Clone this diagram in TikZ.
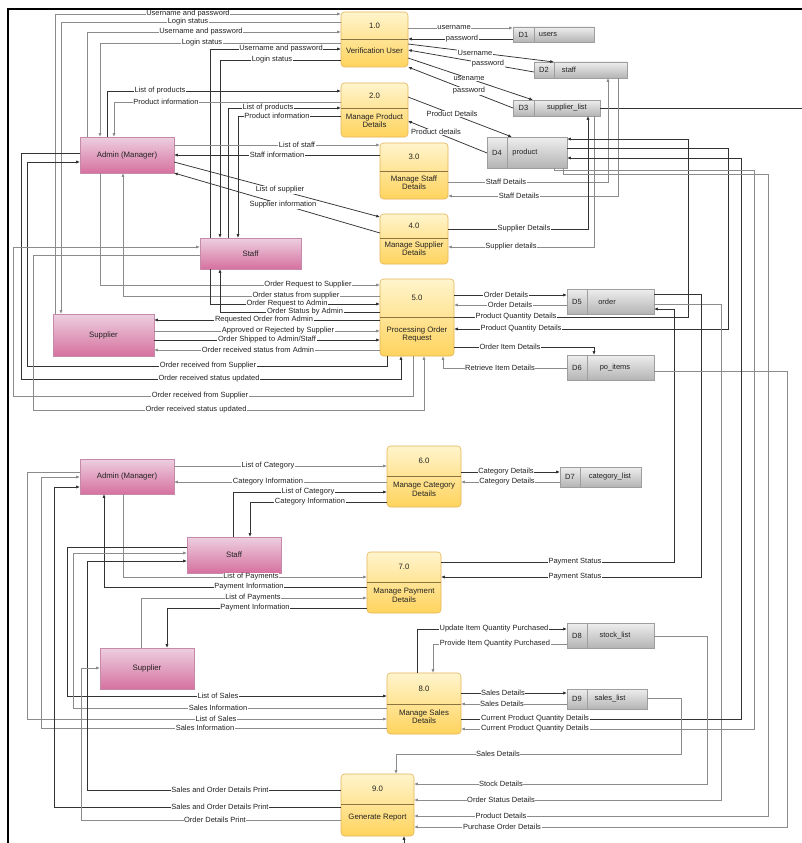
\documentclass[tikz,border=0pt]{standalone}
\usepackage{fontspec}
\setmainfont{Liberation Sans}
\usetikzlibrary{arrows.meta}
\definecolor{ptop}{HTML}{FFF4CC}
\definecolor{pbot}{HTML}{FFD45E}
\definecolor{pbrd}{HTML}{E3B458}
\definecolor{pdivc}{HTML}{8C7440}
\definecolor{etop}{HTML}{EDCFE0}
\definecolor{ebot}{HTML}{D6719F}
\definecolor{ebrd}{HTML}{C58AAA}
\definecolor{stop}{HTML}{EEEEEE}
\definecolor{sbot}{HTML}{B4B4B4}
\definecolor{sbrd}{HTML}{9E9E9E}
\definecolor{txt}{HTML}{222222}
\tikzset{
 proc/.style={draw=pbrd, line width=0.6pt, rounded corners=3.5pt, top color=ptop, bottom color=pbot, inner sep=0pt, outer sep=0pt},
 ent/.style={draw=ebrd, line width=0.5pt, top color=etop, bottom color=ebot, inner sep=0pt, outer sep=0pt, font=\fontsize{7.8}{8.4}\selectfont, text=txt},
 store/.style={draw=sbrd, line width=0.5pt, top color=stop, bottom color=sbot, inner sep=0pt, outer sep=0pt},
 ntext/.style={font=\fontsize{7.8}{8.4}\selectfont, align=center, inner sep=0pt, text=txt},
 stext/.style={font=\fontsize{7.5}{8}\selectfont, inner sep=0pt, text=txt},
 lbl/.style={font=\fontsize{7.5}{8}\selectfont, fill=white, inner sep=0.6pt, text=txt},
 fl/.style={draw=black!80, line width=0.75pt, -{Latex[length=3.8pt,width=3.2pt]}},
 gf/.style={fl, draw=black!45},
}
\newcommand\mkproc[8]{%
 \node[proc, minimum width={#4-#2}, minimum height={#5-#3}] (#1) at ({(#2+#4)/2},{(#3+#5)/2}) {};
 \draw[draw=pdivc, line width=0.6pt] (#2,#6) -- (#4,#6);
 \node[ntext] (#1-num) at ({(#2+#4)/2},{(#3+#6)/2}) {#7};
 \node[ntext] (#1-txt) at ({(#2+#4)/2},{(#6+#5)/2-2}) {#8};
}
\newcommand\mkent[6]{%
 \node[ent, minimum width={#4-#2}, minimum height={#5-#3}] (#1) at ({(#2+#4)/2},{(#3+#5)/2}) {#6};
}
\newcommand\mkstore[9]{%
 \node[store, minimum width={#4-#2}, minimum height={#5-#3}] (#1) at ({(#2+#4)/2},{(#3+#5)/2}) {};
 \draw[draw=sbrd, line width=0.5pt] (#6,#3) -- (#6,#5);
 \node[stext] (#1-id) at ({(#2+#6)/2},{(#3+#5)/2}) {#7};
 \node[stext] (#1-lab) at (#9,{(#3+#5)/2}) {#8};
}
\begin{document}
\begin{tikzpicture}[x=1pt,y=-1pt]
\useasboundingbox (0,0) rectangle (802,843);
\fill[white] (0,0) rectangle (802,843);
% frame
\coordinate (fbl) at (8,843);
\coordinate (ftl) at (8,9);
\coordinate (ftr) at (802,9);
\draw[line width=1.3pt] (fbl) -- (ftl) -- (ftr);
% processes
\mkproc{p1}{341}{12}{408}{67}{39}{1.0}{Verification User}
\mkproc{p2}{341}{83}{408}{137}{108}{2.0}{Manage Product\\Details}
\mkproc{p3}{380}{143}{448}{199}{171}{3.0}{Manage Staff\\Details}
\mkproc{p4}{380}{214}{448}{264}{238}{4.0}{Manage Supplier\\Details}
\mkproc{p5}{380}{279}{454}{356}{317}{5.0}{Processing Order\\Request}
\mkproc{p6}{387}{446}{461}{507}{476}{6.0}{Manage Category\\Details}
\mkproc{p7}{367}{552}{441}{613}{582}{7.0}{Manage Payment\\Details}
\mkproc{p8}{387}{673}{461}{734}{704}{8.0}{Manage Sales\\Details}
\mkproc{p9}{341}{774}{414}{836}{804}{9.0}{Generate Report}
% entities
\mkent{adm1}{80}{137}{174}{173}{Admin (Manager)}
\mkent{stf1}{200}{238}{301}{269}{Staff}
\mkent{sup1}{53}{314}{154}{356}{Supplier}
\mkent{adm2}{80}{459}{174}{494}{Admin (Manager)}
\mkent{stf2}{187}{537}{281}{573}{Staff}
\mkent{sup2}{100}{648}{194}{689}{Supplier}
% stores
\mkstore{d1}{513}{27}{594}{42}{534}{D1}{users}{548}
\mkstore{d2}{534}{62}{627}{78}{554}{D2}{staff}{569}
\mkstore{d3}{513}{100}{600}{116}{534}{D3}{supplier\_list}{567}
\mkstore{d4}{487}{137}{567}{168}{507}{D4}{product}{525}
\mkstore{d5}{567}{289}{654}{314}{587}{D5}{order}{607}
\mkstore{d6}{567}{355}{654}{380}{587}{D6}{po\_items}{615}
\mkstore{d7}{560}{467}{641}{487}{580}{D7}{category\_list}{610}
\mkstore{d8}{567}{623}{654}{648}{587}{D8}{stock\_list}{615}
\mkstore{d9}{567}{689}{647}{709}{587}{D9}{sales\_list}{610}
% --- 1.0
\draw[gf] (sup1.north -| 55,0) |- (p1.west |- 0,14) node[lbl] at (188,14) {Username and password};
\draw[gf] (p1.west |- 0,22) -| (sup1.north -| 61,0) node[lbl] at (188,22) {Login status};
\draw[gf] (adm1.north -| 87,0) |- (p1.west |- 0,32) node[lbl] at (201,32) {Username and password};
\draw[gf] (p1.west |- 0,43) -| (adm1.north -| 100,0) node[lbl] at (202,43) {Login status};
\draw[fl] (stf1.north -| 210,0) |- (p1.west |- 0,49) node[lbl] at (281,49) {Username and password};
\draw[fl] (p1.west |- 0,60) -| (stf1.north -| 220,0) node[lbl] at (272,60) {Login status};
\draw[gf] (p1.east |- 0,28) -- (d1.west |- 0,28) node[lbl] at (454,28) {username};
\draw[fl] (d1.west |- 0,39) -- (p1.east |- 0,39) node[lbl] at (462,39) {password};
\draw[fl] (p1.east |- 0,44) -- (d2.north -| 554,0) node[lbl] at (475,52.5) {Username};
\draw[fl] (d2.west |- 0,72) -- (p1.east |- 0,50) node[lbl] at (488,64) {password};
\draw[fl] (p1.east |- 0,58) -- (d3.north -| 533,0) node[lbl] at (469,78.5) {usename};
\draw[fl] (d3.west |- 0,108) -- (p1.south east) node[lbl] at (469,91) {password};
\coordinate (redge) at (802,108);
\draw[fl,-] (d3.east |- 0,108) -- (redge);
% --- 2.0
\draw[fl] (adm1.north -| 107,0) |- (p2.west |- 0,91) node[lbl] at (160,91) {List of products};
\draw[gf] (p2.west |- 0,102) -| (adm1.north -| 114,0) node[lbl] at (166,102) {Product information};
\draw[fl] (stf1.north -| 228,0) |- (p2.west |- 0,108) node[lbl] at (268,108) {List of products};
\draw[fl] (p2.west |- 0,116) -| (stf1.north -| 238,0) node[lbl] at (277,116) {Product information};
\draw[fl] (p2.east |- 0,97) -- (d4.north -| 512,0) node[lbl] at (452,114) {Product Details};
\draw[fl] (d4.west |- 0,153) -- (p2.east |- 0,121) node[lbl] at (436,132) {Product details};
% --- 3.0
\draw[gf] (adm1.east |- 0,145) -- (p3.west |- 0,145) node[lbl] at (297,145) {List of staff};
\draw[fl] (p3.west |- 0,155) -- (adm1.east |- 0,155) node[lbl] at (277,155) {Staff information};
\draw[gf] (p3.east |- 0,182) -| (d2.south -| 608,0) node[lbl] at (506,182) {Staff Details};
\draw[gf] (d2.south -| 618,0) |- (p3.east |- 0,196) node[lbl] at (519,196) {Staff Details};
% --- 4.0
\draw[fl] (adm1.east |- 0,162) -- (p4.west |- 0,217) node[lbl] at (280,190) {List of supplier};
\draw[fl] (p4.west |- 0,233) -- (adm1.south east) node[lbl] at (283,205) {Supplier information};
\draw[fl] (p4.east |- 0,229) -| (d3.south -| 588,0) node[lbl] at (524,229) {Supplier Details};
\draw[gf] (d3.south -| 594,0) |- (p4.east |- 0,247) node[lbl] at (511,247) {Supplier details};
% --- 5.0 left
\draw[gf] (adm1.south -| 100,0) |- (p5.west |- 0,285) node[lbl] at (308,285) {Order Request to Supplier};
\draw[gf] (p5.west |- 0,296) -| (adm1.south -| 123,0) node[lbl] at (296,296) {Order status from supplier};
\draw[fl] (stf1.south -| 210,0) |- (p5.west |- 0,304) node[lbl] at (287,304) {Order Request to  Admin};
\draw[fl] (p5.west |- 0,312) -| (stf1.south -| 220,0) node[lbl] at (305,312) {Order Status by Admin};
\draw[fl] (p5.west |- 0,320) -- (sup1.east |- 0,320) node[lbl] at (264,320) {Requested Order from Admin};
\draw[gf] (sup1.east |- 0,331) -- (p5.west |- 0,331) node[lbl] at (278,331) {Approved or Rejected by Supplier};
\draw[fl] (sup1.east |- 0,340) -- (p5.west |- 0,340) node[lbl] at (267,340) {Order Shipped to Admin/Staff};
\draw[gf] (p5.west |- 0,350) -- (sup1.east |- 0,350) node[lbl] at (258,350) {Order received status from Admin};
% --- 5.0 bottom
\draw[fl] (p5.south -| 387,0) |- (27,366) |- (adm1.west |- 0,162) node[lbl] at (208,366) {Order received from Supplier};
\draw[fl] (adm1.west |- 0,153) -| (21,379) -| (p5.south -| 401,0) node[lbl] at (209,379) {Order received status updated};
\draw[gf] (p5.south -| 413,0) |- (13,396) |- (stf1.west |- 0,247) node[lbl] at (200,396) {Order received from Supplier};
\draw[gf] (stf1.west |- 0,255) -| (33,410) -| (p5.south -| 424,0) node[lbl] at (196,410) {Order received status updated};
% --- 5.0 right
\draw[fl] (p5.east |- 0,295) -- (d5.west |- 0,295) node[lbl] at (506,295) {Order Details};
\draw[gf] (d5.west |- 0,305) -- (p5.east |- 0,305) node[lbl] at (510,305) {Order Details};
\draw[fl] (p5.east |- 0,317) -| (688,139) -- (d4.east |- 0,139) node[lbl] at (516,317) {Product Quantity Details};
\draw[fl] (d4.east |- 0,148) -| (728,329) -- (p5.east |- 0,329) node[lbl] at (521,329) {Product Quantity Details};
\draw[fl] (p5.east |- 0,347) -| (d6.north -| 594,0) node[lbl] at (510,347) {Order Item Details};
\draw[gf] (d6.west |- 0,368) -| (p5.south -| 443,0) node[lbl] at (500,368) {Retrieve Item Details};
% --- right column
\draw[gf] (d5.east |- 0,304) -| (721,800) -- (p9.east |- 0,800) node[lbl] at (501,800) {Order Status Details};
\draw[fl] (d5.east |- 0,294) -| (701,577) -- (p7.east |- 0,577) node[lbl] at (575,577) {Payment Status};
\draw[fl] (p7.east |- 0,562) -| (674,309) -- (d5.east |- 0,309) node[lbl] at (575,562) {Payment Status};
\draw[gf] (d6.east |- 0,371) -| (787,827) -- (p9.east |- 0,827) node[lbl] at (502,827) {Purchase Order Details};
\draw[fl] (p8.east |- 0,719) -| (741,158) -- (d4.east |- 0,158) node[lbl] at (535,719) {Current Product Quantity Details};
\draw[gf] (d4.south -| 554,0) |- (754,170) -- (754,729) -- (p8.east |- 0,729) node[lbl] at (535,729) {Current Product Quantity Details};
\draw[gf] (d4.south -| 563,0) |- (768,174) -- (768,816) -- (p9.east |- 0,816) node[lbl] at (501,816) {Product Details};
\draw[gf] (d8.east |- 0,636) -| (707,784) -- (p9.east |- 0,784) node[lbl] at (501,784) {Stock Details};
\draw[gf] (d9.east |- 0,698) -| (681,754) -| (p9.north -| 396,0) node[lbl] at (498,754) {Sales Details};
% --- 6.0
\draw[gf] (adm2.east |- 0,466) -- (p6.west |- 0,466) node[lbl] at (268,466) {List of Category};
\draw[gf] (p6.west |- 0,482) -- (adm2.east |- 0,482) node[lbl] at (268,482) {Category Information};
\draw[fl] (stf2.north -| 233,0) |- (p6.west |- 0,492) node[lbl] at (308,492) {List of Category};
\draw[fl] (p6.west |- 0,502) -| (stf2.north -| 250,0) node[lbl] at (310,502) {Category Information};
\draw[fl] (p6.east |- 0,472) -- (d7.west |- 0,472) node[lbl] at (506,472) {Category Details};
\draw[gf] (d7.west |- 0,482) -- (p6.east |- 0,482) node[lbl] at (507,482) {Category Details};
% --- 7.0
\draw[gf] (adm2.south -| 123,0) |- (p7.west |- 0,577) node[lbl] at (251,577) {List of Payments};
\draw[fl] (p7.west |- 0,587) -| (adm2.south -| 104,0) node[lbl] at (249,587) {Payment Information};
\draw[gf] (sup2.north -| 141,0) |- (p7.west |- 0,598) node[lbl] at (253,598) {List of Payments};
\draw[fl] (p7.west |- 0,608) -| (sup2.north -| 167,0) node[lbl] at (255,608) {Payment Information};
% --- 8.0
\draw[fl] (p8.north -| 417,0) |- (d8.west |- 0,629) node[lbl] at (494,629) {Update Item Quantity Purchased};
\draw[gf] (d8.west |- 0,644) -| (p8.north -| 433,0) node[lbl] at (495,644) {Provide Item Quantity Purchased};
\draw[fl] (p8.east |- 0,693) -- (d9.west |- 0,693) node[lbl] at (503,693) {Sales Details};
\draw[gf] (d9.west |- 0,704) -- (p8.east |- 0,704) node[lbl] at (502,704) {Sales Details};
\draw[fl] (stf2.west |- 0,547) -| (67,696) -- (p8.west |- 0,696) node[lbl] at (218,696) {List of Sales};
\draw[gf] (p8.west |- 0,708) -| (73,553) -- (stf2.west |- 0,553) node[lbl] at (218,708) {Sales Information};
\draw[gf] (adm2.west |- 0,472) -| (27,719) -- (p8.west |- 0,719) node[lbl] at (216,719) {List of Sales};
\draw[gf] (p8.west |- 0,728) -| (41,477) -- (adm2.west |- 0,477) node[lbl] at (205,728) {Sales Information};
% --- 9.0
\draw[fl] (p9.west |- 0,790) -| (87,561) -- (stf2.west |- 0,561) node[lbl] at (220,790) {Sales and Order Details Print};
\draw[fl] (p9.west |- 0,807) -| (54,487) -- (adm2.west |- 0,487) node[lbl] at (220,807) {Sales and Order Details Print};
\draw[gf] (p9.west |- 0,820) -| (81,668) -- (sup2.west |- 0,668) node[lbl] at (215,820) {Order Details Print};
\coordinate (botin) at (404,843);
\draw[fl] (botin) -- (p9.south -| 404,0);
\end{tikzpicture}
\end{document}
